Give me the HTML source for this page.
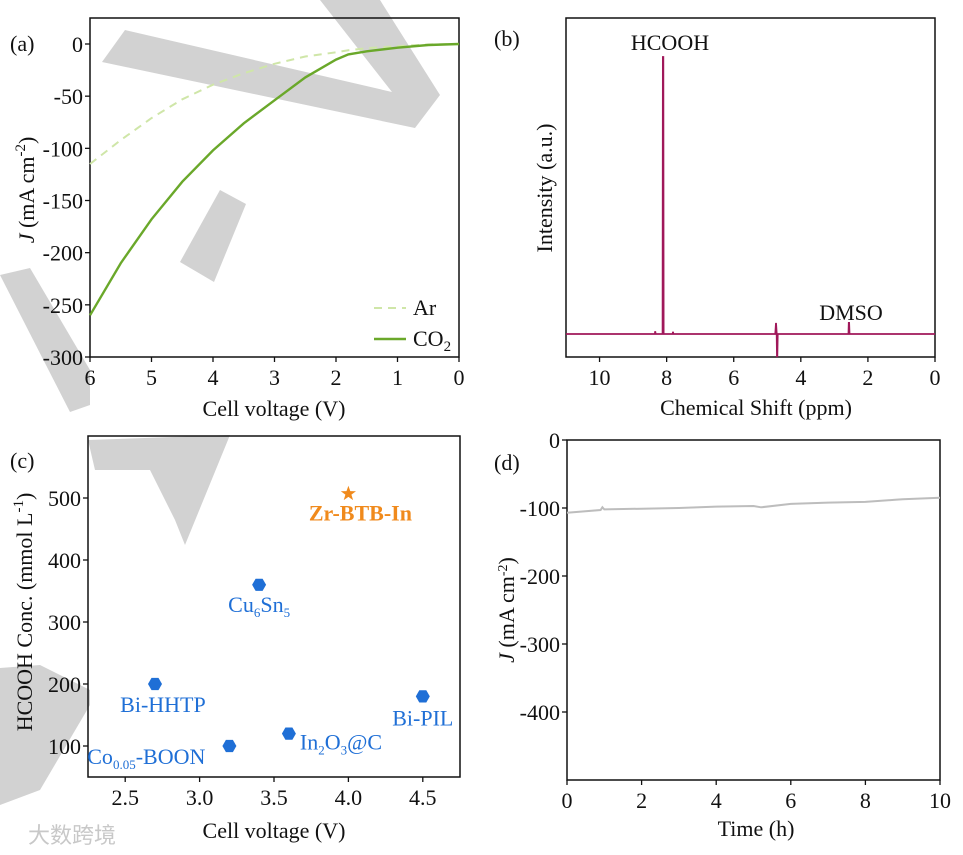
<!DOCTYPE html>
<html><head><meta charset="utf-8">
<style>
body{margin:0;background:#fff;}
svg{display:block;font-family:"Liberation Serif",serif;}
.t{font-size:22px;fill:#111;}
</style></head>
<body>
<svg id="fig" width="963" height="855" viewBox="0 0 963 855" xmlns="http://www.w3.org/2000/svg">
<g id="wm" fill="#d2d2d2">
  <polygon points="125,30 102,62 415,128 440,95 380,0 320,0 392,92 "/>
  <polygon points="180,262 214,282 246,204 220,190"/>
  <polygon points="0,275 30,268 90,370 90,405 70,412"/>
  <polygon points="88,440 230,435 185,545 175,520 150,470 95,470"/>
  <polygon points="0,668 40,665 90,690 90,705 40,790 0,805"/>
</g>
<g id="plots"></g>
</svg>
<script>
// ---- Panel (a) data
const aVolt = [6,5.5,5,4.5,4,3.5,3,2.5,2,1.8,1.5,1,0.5,0];
const aAr   = [-115,-92,-71,-53,-39,-28,-19,-12,-8,-6,-4,-2,-0.5,0];
const aCO2  = [-260,-210,-168,-132,-102,-76,-54,-32,-15,-10,-7,-3.5,-1,0];
const aXTicks = [6,5,4,3,2,1,0];
const aYTicks = [0,-50,-100,-150,-200,-250,-300];
// ---- Panel (b) data
const bShift = [11,8.35,8.34,8.33,8.12,8.11,8.1,8.09,7.82,7.81,7.8,4.76,4.74,4.72,4.71,4.7,4.69,2.58,2.57,2.56,2.55,0];
const bInt   = [0,0,1,0,0,100,100,0,0,0.8,0,0,4,0,-8,-8,0,0,4,4,0,0];
const bXTicks = [10,8,6,4,2,0];
// ---- Panel (c) data
const cNames = ["Bi-HHTP","Co0.05-BOON","Cu6Sn5","In2O3@C","Bi-PIL"];
const cVolt  = [2.7,3.2,3.4,3.6,4.5];
const cConc  = [200,100,360,120,180];
const starVolt = [4.0];
const starConc = [507];
const cXTicks = [2.5,3.0,3.5,4.0,4.5];
const cYTicks = [100,200,300,400,500];
// ---- Panel (d) data
const dTime = [0,0.9,0.95,1,2,3,4,5,5.2,6,7,8,8.8,9,10];
const dJ    = [-107,-103,-99,-102,-101,-100,-98,-97,-99,-94,-92,-91,-88,-87,-85];
const dXTicks = [0,2,4,6,8,10];
const dYTicks = [0,-100,-200,-300,-400];

const NS="http://www.w3.org/2000/svg";
const root=document.getElementById('plots');
function mk(tag,attrs,parent,text){const e=document.createElementNS(NS,tag);for(const k in attrs)e.setAttribute(k,attrs[k]);if(text!==undefined)e.textContent=text;(parent||root).appendChild(e);return e;}
function lin(d0,d1,r0,r1){return v=>r0+(v-d0)*(r1-r0)/(d1-d0);}
function frame(x0,y0,x1,y1,name){const r=mk('rect',{x:x0,y:y0,width:x1-x0,height:y1-y0,fill:'none',stroke:'#111','stroke-width':1.5});}
function pathD(xs,ys,X,Y){return xs.map((v,i)=>(i?'L':'M')+X(v).toFixed(1)+','+Y(ys[i]).toFixed(1)).join(' ');}
function xt(ticks,X,yb,fmt,name,size){ticks.forEach(t=>{const l=mk('line',{x1:X(t),x2:X(t),y1:yb,y2:yb+5,stroke:'#111','stroke-width':1.3});
 const tx=mk('text',{x:X(t),y:yb+28,'text-anchor':'middle',class:'t','font-size':size||23},root,fmt(t));});}
function yt(ticks,Y,xl,fmt,name,size){ticks.forEach(t=>{const l=mk('line',{x1:xl-5,x2:xl,y1:Y(t),y2:Y(t),stroke:'#111','stroke-width':1.3});
 const tx=mk('text',{x:xl-7,y:Y(t)+8,'text-anchor':'end',class:'t','font-size':size||23},root,fmt(t));});}
function label(x,y,txt,name,extra){const t=mk('text',Object.assign({x:x,y:y,class:'t'},extra||{}),root,txt);return t;}

// ===== Panel a
{const X=lin(6,0,90,459),Y=lin(0,-300,44,357);
frame(90,18,459,357,'panel-a-frame');
xt(aXTicks,X,357,v=>v,'a-x');yt(aYTicks,Y,90,v=>v,'a-y');
let p=mk('path',{d:pathD(aVolt,aAr,X,Y),fill:'none',stroke:'#cfe6a8','stroke-width':2,'stroke-dasharray':'8,6'});

p=mk('path',{d:pathD(aVolt,aCO2,X,Y),fill:'none',stroke:'#6aa82a','stroke-width':2.4});

let l=mk('line',{x1:374,x2:406,y1:308,y2:308,stroke:'#cfe6a8','stroke-width':2,'stroke-dasharray':'8,6'});
label(413,315,'Ar','legend-ar-label');
l=mk('line',{x1:374,x2:406,y1:339,y2:339,stroke:'#6aa82a','stroke-width':2.4});
const c=label(413,346,'CO','legend-co2-label');mk('tspan',{'font-size':15,dy:5},c,'2');
label(10,51,'(a)','panel-a-label',{'font-size':26});
label(274,416,'Cell voltage (V)','a-x-title',{'text-anchor':'middle','font-size':24});
const yl=label(0,0,'','a-y-title',{transform:'translate(34,190) rotate(-90)','text-anchor':'middle','font-size':24});
mk('tspan',{'font-style':'italic'},yl,'J');mk('tspan',{},yl,' (mA cm');mk('tspan',{'font-size':15,dy:-9},yl,'-2');mk('tspan',{dy:9},yl,')');
}
// ===== Panel b
{const X=lin(11,0,566,935),Y=lin(0,100,334,57);
frame(566,18,935,357,'panel-b-frame');
xt(bXTicks,X,357,v=>v,'b-x');
let p=mk('path',{d:pathD(bShift,bInt,X,Y),fill:'none',stroke:'#a0185a','stroke-width':1.8});

label(670,50,'HCOOH','hcooh-peak-label',{'text-anchor':'middle','font-size':24});
label(851,320,'DMSO','dmso-peak-label',{'text-anchor':'middle','font-size':24});
label(494,46,'(b)','panel-b-label',{'font-size':26});
label(756,415,'Chemical Shift (ppm)','b-x-title',{'text-anchor':'middle','font-size':24});
label(0,0,'Intensity (a.u.)','b-y-title',{transform:'translate(552,188) rotate(-90)','text-anchor':'middle','font-size':24});
}
// ===== Panel c
{const X=lin(2.25,4.75,88,460),Y=lin(50,600,777,436);
frame(88,436,460,777,'panel-c-frame');
xt(cXTicks,X,777,v=>v.toFixed(1),'c-x');yt(cYTicks,Y,88,v=>v,'c-y');
cVolt.forEach((v,i)=>{const cx=X(v),cy=Y(cConc[i]),r=7;
 const pts=[];for(let k=0;k<6;k++){const a=Math.PI/3*k;pts.push((cx+r*Math.cos(a)).toFixed(1)+','+(cy+r*Math.sin(a)).toFixed(1));}
 const h=mk('polygon',{points:pts.join(' '),fill:'#1f6fd6'});});
const lab=(x,y,parts,name,anchor)=>{const t=label(x,y,'',name,{fill:'#1f6fd6','font-size':19,'text-anchor':anchor||'middle'});t.style.fill='#1f6fd6';parts.forEach(p=>{if(p[1])mk('tspan',{'font-size':13,dy:p[1]},t,p[0]);else mk('tspan',{dy:p[2]||0},t,p[0]);});};
lab(X(2.7)+8,Y(200)+28,[['Bi-HHTP']],'label-bi-hhtp');
lab(X(3.2)-24,Y(100)+18,[['Co'],['0.05',5],['-BOON',0,-5]],'label-co-boon','end');
lab(X(3.4),Y(360)+27,[['Cu'],['6',5],['Sn',0,-5],['5',5]],'label-cu6sn5');
lab(X(3.6)+11,Y(120)+16,[['In'],['2',5],['O',0,-5],['3',5],['@C',0,-5]],'label-in2o3c','start');
lab(X(4.5),Y(180)+29,[['Bi-PIL']],'label-bi-pil');
starVolt.forEach((v,i)=>{const cx=X(v),cy=Y(starConc[i]);const pts=[];for(let k=0;k<10;k++){const r=k%2?3.2:8,a=-Math.PI/2+Math.PI/5*k;pts.push((cx+r*Math.cos(a)).toFixed(1)+','+(cy+r*Math.sin(a)).toFixed(1));}
 const s=mk('polygon',{points:pts.join(' '),fill:'#f08a1c'});
 label(cx+12,cy+27,'Zr-BTB-In','label-zr-btb-in',{'text-anchor':'middle','font-size':18,'font-weight':'bold',fill:'#f08a1c'}).style.fill='#f08a1c';});
label(10,468,'(c)','panel-c-label',{'font-size':26});
label(274,838,'Cell voltage (V)','c-x-title',{'text-anchor':'middle','font-size':24});
const yl=label(0,0,'','c-y-title',{transform:'translate(32,612) rotate(-90)','text-anchor':'middle','font-size':24});
mk('tspan',{},yl,'HCOOH Conc. (mmol L');mk('tspan',{'font-size':15,dy:-9},yl,'-1');mk('tspan',{dy:9},yl,')');
const wm=label(28,843,'大数跨境','watermark-text',{'font-size':16,fill:'#c8c8c8','font-family':'"Liberation Sans","Noto Sans CJK SC",sans-serif'});wm.style.fill='#c8c8c8';
}
// ===== Panel d
{const X=lin(0,10,567,940),Y=lin(0,-500,440,780);
frame(567,440,940,780,'panel-d-frame');
xt(dXTicks,X,780,v=>v,'d-x',21);yt(dYTicks,Y,567,v=>v,'d-y',21);
let p=mk('path',{d:pathD(dTime,dJ,X,Y),fill:'none',stroke:'#bdbdbd','stroke-width':2});

label(494,470,'(d)','panel-d-label',{'font-size':26});
label(756,836,'Time (h)','d-x-title',{'text-anchor':'middle','font-size':21});
const yl=label(0,0,'','d-y-title',{transform:'translate(514,610) rotate(-90)','text-anchor':'middle','font-size':21});
mk('tspan',{'font-style':'italic'},yl,'J');mk('tspan',{},yl,' (mA cm');mk('tspan',{'font-size':14,dy:-7},yl,'-2');mk('tspan',{dy:7},yl,')');
}
</script>
</body></html>
